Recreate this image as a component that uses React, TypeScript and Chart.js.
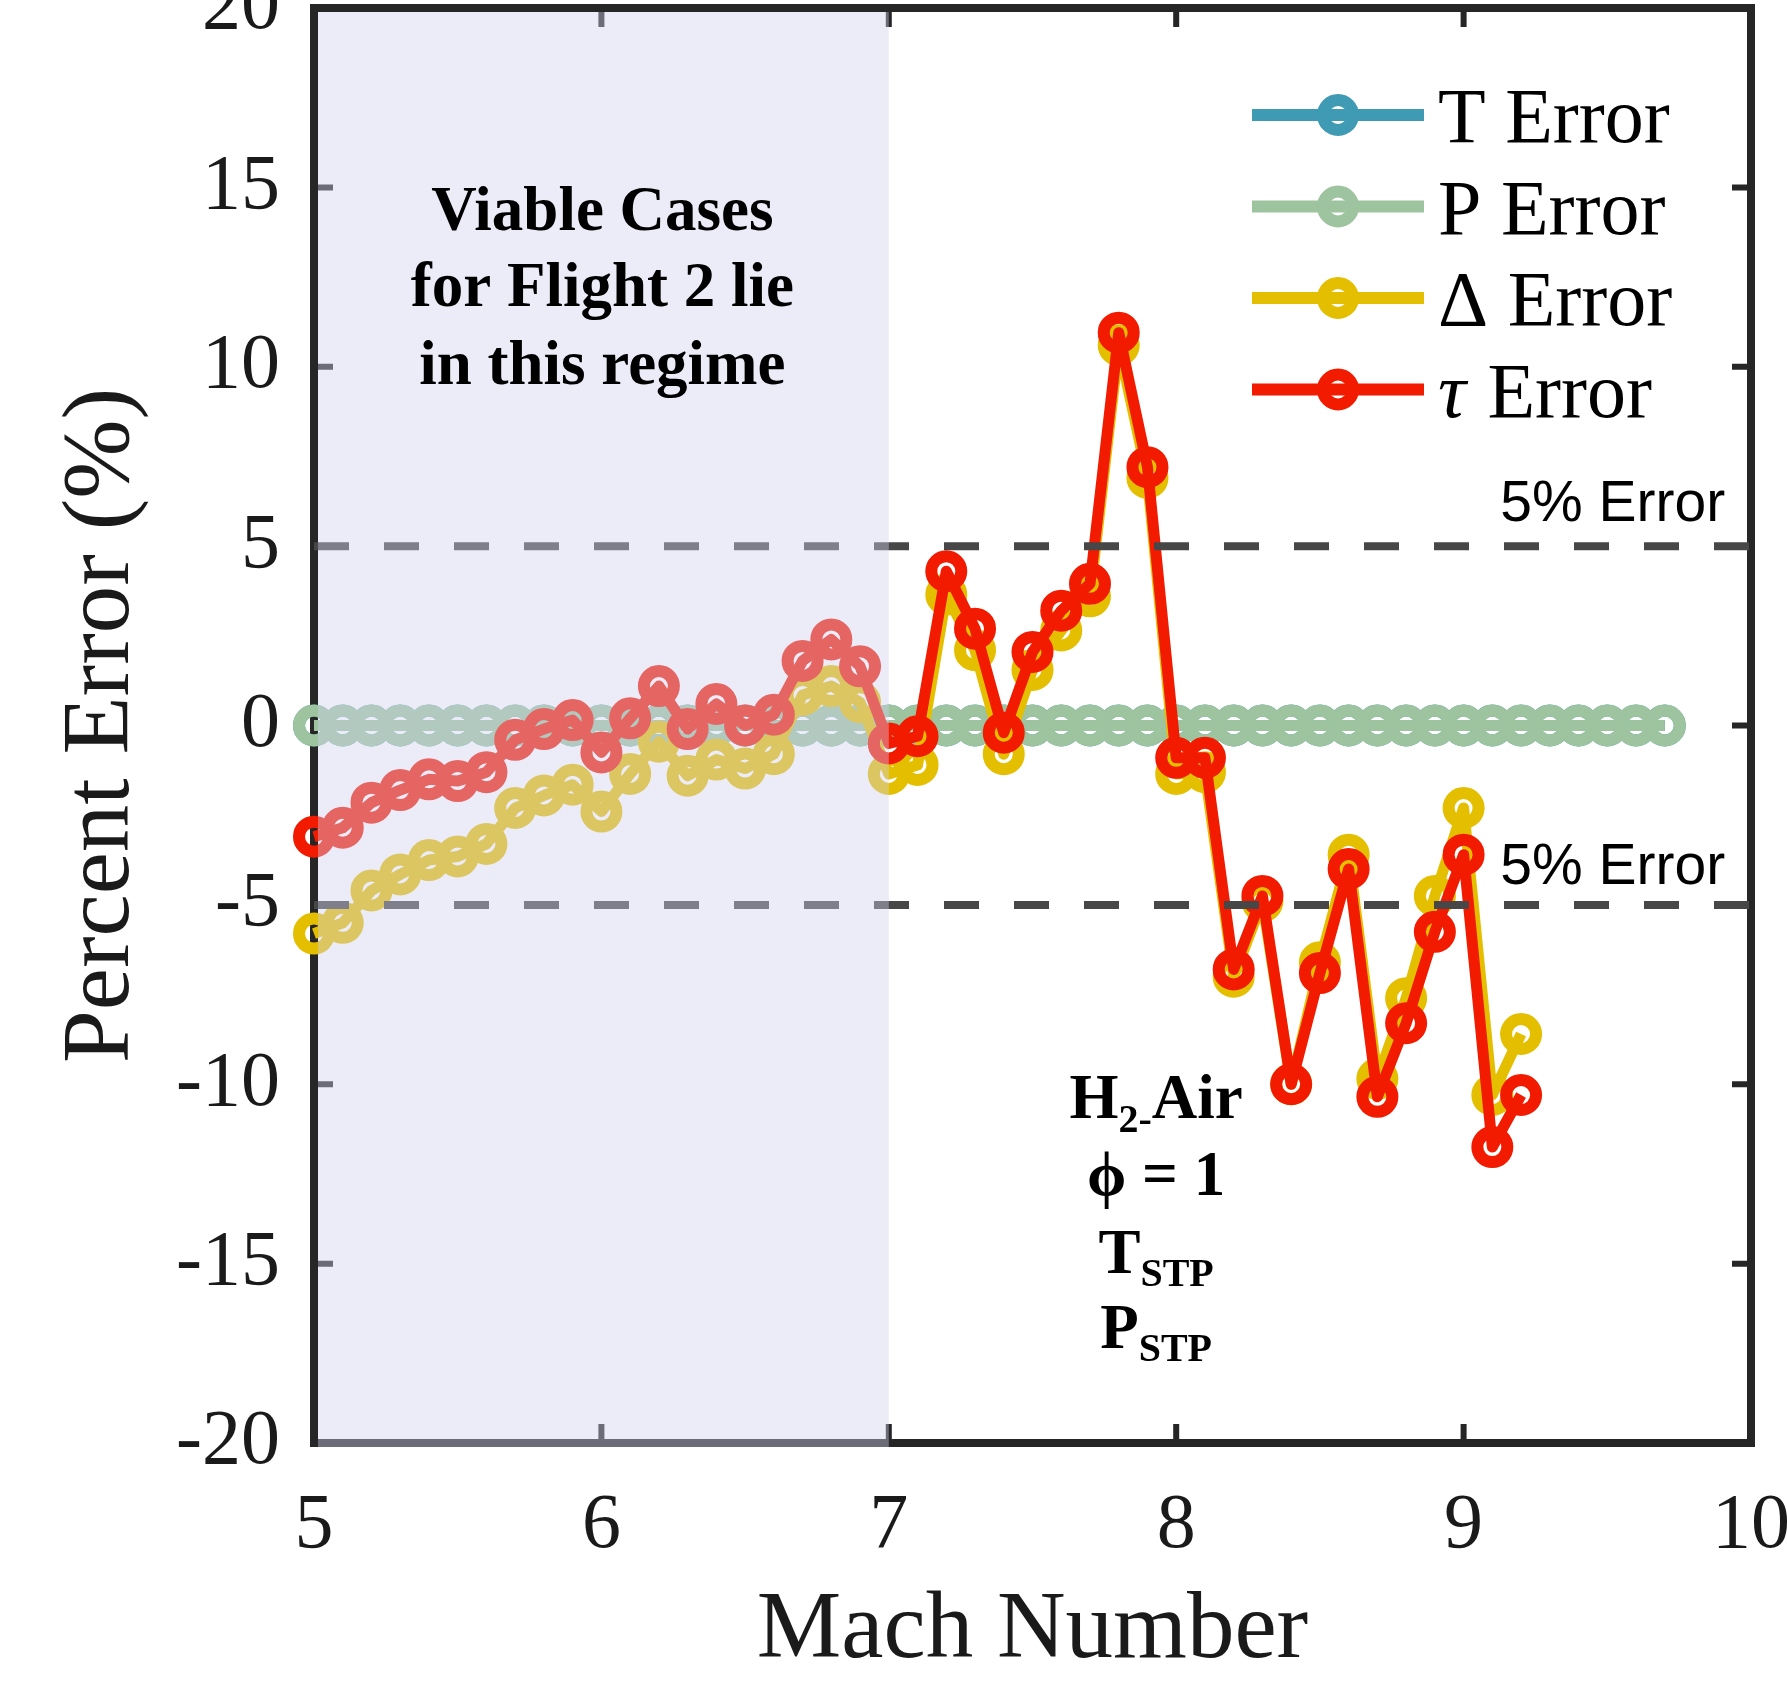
import React, { useEffect, useRef } from "react";
import { Chart, registerables } from "chart.js";

Chart.register(...registerables);

const SERIF = '"Liberation Serif", "Times New Roman", serif';
const SANS = '"Liberation Sans", Arial, sans-serif';

// Mach numbers
const machAll = [5.0, 5.1, 5.2, 5.3, 5.4, 5.5, 5.6, 5.7, 5.8, 5.9, 6.0, 6.1, 6.2, 6.3, 6.4, 6.5, 6.6, 6.7, 6.8, 6.9, 7.0, 7.1, 7.2, 7.3, 7.4, 7.5, 7.6, 7.7, 7.8, 7.9, 8.0, 8.1, 8.2, 8.3, 8.4, 8.5, 8.6, 8.7, 8.8, 8.9, 9.0, 9.1, 9.2, 9.3, 9.4, 9.5, 9.6, 9.7];
const machSub = [5.0, 5.1, 5.2, 5.3, 5.4, 5.5, 5.6, 5.7, 5.8, 5.9, 6.0, 6.1, 6.2, 6.3, 6.4, 6.5, 6.6, 6.7, 6.8, 6.9, 7.0, 7.1, 7.2, 7.3, 7.4, 7.5, 7.6, 7.7, 7.8, 7.9, 8.0, 8.1, 8.2, 8.3, 8.4, 8.5, 8.6, 8.7, 8.8, 8.9, 9.0, 9.1, 9.2];

// Percent errors
const tError = [0, 0, 0, 0, 0, 0, 0, 0, 0, 0, 0, 0, 0, 0, 0, 0, 0, 0, 0, 0, 0, 0, 0, 0, 0, 0, 0, 0, 0, 0, 0, 0, 0, 0, 0, 0, 0, 0, 0, 0, 0, 0, 0, 0, 0, 0, 0, 0];
const pError = [0, 0, 0, 0, 0, 0, 0, 0, 0, 0, 0, 0, 0, 0, 0, 0, 0, 0, 0, 0, 0, 0, 0, 0, 0, 0, 0, 0, 0, 0, 0, 0, 0, 0, 0, 0, 0, 0, 0, 0, 0, 0, 0, 0, 0, 0, 0, 0];
const deltaError = [-5.8, -5.5, -4.6, -4.15, -3.75, -3.65, -3.3, -2.3, -1.95, -1.65, -2.4, -1.35, -0.45, -1.4, -0.95, -1.2, -0.8, 0.85, 1.1, 0.65, -1.35, -1.1, 3.65, 2.1, -0.8, 1.55, 2.65, 3.6, 10.6, 6.9, -1.35, -1.3, -7.0, -4.9, -10.0, -6.6, -3.6, -9.85, -7.6, -4.75, -2.3, -10.3, -8.6];
const tauError = [-3.1, -2.85, -2.15, -1.8, -1.5, -1.55, -1.3, -0.4, -0.1, 0.15, -0.75, 0.2, 1.1, -0.1, 0.6, 0.0, 0.3, 1.8, 2.4, 1.65, -0.5, -0.3, 4.3, 2.7, -0.2, 2.05, 3.2, 3.95, 10.95, 7.2, -0.9, -0.9, -6.8, -4.75, -10.0, -6.9, -4.0, -10.35, -8.3, -5.75, -3.6, -11.75, -10.3];

// Reference lines / regions / axis ranges
const errorBand = [5, -5];
const xRange = [5, 10];
const yRange = [-20, 20];
const viableRange = [5, 7];

const seriesLabels = ["T Error", "P Error", "\u0394 Error", "\u03C4 Error"];
const seriesColors = ["#3f9ab3", "#9dc49e", "#e4bf00", "#f21b00"];

const toXY = (xs: number[], ys: number[]) => xs.map((x, i) => ({ x, y: ys[i] }));

function drawParts(ctx: CanvasRenderingContext2D, parts: { text: string; font: string; dy: number }[], cx: number, baseline: number) {
  let total = 0;
  const widths = parts.map((p) => {
    ctx.font = p.font;
    const w = ctx.measureText(p.text).width;
    total += w;
    return w;
  });
  let x = cx - total / 2;
  ctx.textAlign = "left";
  ctx.textBaseline = "alphabetic";
  parts.forEach((p, i) => {
    ctx.font = p.font;
    ctx.fillText(p.text, x, baseline + p.dy);
    x += widths[i];
  });
}

const framePlugin = {
  id: "frame",
  beforeDatasetsDraw(chart: any) {
    const { ctx, chartArea: ca, scales } = chart;
    ctx.save();
    ctx.strokeStyle = "#262626";
    ctx.lineWidth = 6;
    ctx.beginPath();
    const tl = 19;
    for (const t of scales.y.ticks) {
      const py = scales.y.getPixelForValue(t.value);
      ctx.moveTo(ca.left, py);
      ctx.lineTo(ca.left + tl, py);
      ctx.moveTo(ca.right, py);
      ctx.lineTo(ca.right - tl, py);
    }
    for (const t of scales.x.ticks) {
      const px = scales.x.getPixelForValue(t.value);
      ctx.moveTo(px, ca.bottom);
      ctx.lineTo(px, ca.bottom - tl);
      ctx.moveTo(px, ca.top);
      ctx.lineTo(px, ca.top + tl);
    }
    ctx.stroke();
    ctx.lineWidth = 8;
    ctx.strokeRect(ca.left, ca.top, ca.right - ca.left, ca.bottom - ca.top);
    ctx.restore();
  },
  afterDatasetsDraw(chart: any) {
    const { ctx, chartArea: ca, scales } = chart;
    const x0 = scales.x.getPixelForValue(viableRange[0]) + 4;
    const x1 = scales.x.getPixelForValue(viableRange[1]);
    ctx.save();
    ctx.fillStyle = "rgba(209,209,238,0.41)";
    ctx.fillRect(x0, ca.top + 4, x1 - x0, ca.bottom - ca.top);
    ctx.restore();
  },
  afterDraw(chart: any) {
    const { ctx, chartArea: ca, scales } = chart;
    const xs = scales.x;
    const ys = scales.y;
    ctx.save();
    ctx.fillStyle = "#000";

    // Viable region note
    const vx = xs.getPixelForValue(6) + 1;
    ctx.font = `bold 63px ${SERIF}`;
    ctx.textAlign = "center";
    ctx.textBaseline = "alphabetic";
    ctx.fillText("Viable Cases", vx, ys.getPixelForValue(13.82));
    ctx.fillText("for Flight 2 lie", vx, ys.getPixelForValue(11.68));
    ctx.fillText("in this regime", vx, ys.getPixelForValue(9.53));

    // Conditions note
    const hx = xs.getPixelForValue(7.93);
    const big = `bold 63px ${SERIF}`;
    const sub = `bold 40px ${SERIF}`;
    drawParts(ctx, [
      { text: "H", font: big, dy: 0 },
      { text: "2-", font: sub, dy: 14 },
      { text: "Air", font: big, dy: 0 },
    ], hx, ys.getPixelForValue(-10.95));
    drawParts(ctx, [{ text: "\u03D5 = 1", font: big, dy: 0 }], hx, ys.getPixelForValue(-13.1));
    drawParts(ctx, [
      { text: "T", font: big, dy: 0 },
      { text: "STP", font: sub, dy: 13 },
    ], hx, ys.getPixelForValue(-15.26));
    drawParts(ctx, [
      { text: "P", font: big, dy: 0 },
      { text: "STP", font: sub, dy: 13 },
    ], hx, ys.getPixelForValue(-17.35));

    // 5% error labels
    ctx.font = `57px ${SANS}`;
    ctx.textAlign = "right";
    ctx.textBaseline = "alphabetic";
    const ex = xs.getPixelForValue(9.91);
    ctx.fillText("5% Error", ex, ys.getPixelForValue(5.69));
    ctx.fillText("5% Error", ex, ys.getPixelForValue(-4.41));

    // Legend
    const lineStart = ca.right - 499;
    const lineEnd = ca.right - 327;
    const markX = ca.right - 413;
    const textX = ca.right - 313;
    seriesLabels.forEach((label, i) => {
      const ry = ca.top + 107 + i * 91.5;
      const col = seriesColors[i];
      ctx.strokeStyle = col;
      ctx.lineWidth = 12;
      ctx.beginPath();
      ctx.moveTo(lineStart, ry);
      ctx.lineTo(lineEnd, ry);
      ctx.stroke();
      ctx.beginPath();
      ctx.arc(markX, ry, 15, 0, Math.PI * 2);
      ctx.stroke();
      ctx.fillStyle = "#000";
      ctx.textAlign = "left";
      ctx.textBaseline = "alphabetic";
      if (label.startsWith("\u03C4")) {
        ctx.font = `italic 78px ${SERIF}`;
        ctx.fillText("\u03C4", textX, ry + 27);
        const w = ctx.measureText("\u03C4").width;
        ctx.font = `78px ${SERIF}`;
        ctx.fillText(" Error", textX + w + 2, ry + 27);
      } else {
        ctx.font = `78px ${SERIF}`;
        ctx.fillText(label, textX, ry + 27);
      }
    });
    ctx.restore();
  },
};

const CANVAS_W = 1851;
const CANVAS_H = 1748;

export default function App() {
  const ref = useRef<HTMLCanvasElement | null>(null);

  useEffect(() => {
    if (!ref.current) return;
    const seriesData = [toXY(machAll, tError), toXY(machAll, pError), toXY(machSub, deltaError), toXY(machSub, tauError)];
    const seriesOrder = [4, 3, 2, 1];
    const datasets: any[] = seriesLabels.map((label, i) => ({
      label,
      data: seriesData[i],
      borderColor: seriesColors[i],
      backgroundColor: seriesColors[i],
      borderWidth: 11,
      borderJoinStyle: "round",
      pointRadius: 15,
      pointHoverRadius: 15,
      pointBorderWidth: 12,
      pointBorderColor: seriesColors[i],
      pointBackgroundColor: "rgba(0,0,0,0)",
      tension: 0,
      clip: false,
      order: seriesOrder[i],
    }));
    errorBand.forEach((v) => {
      datasets.push({
        label: "band",
        data: [{ x: xRange[0], y: v }, { x: xRange[1], y: v }],
        borderColor: "#474747",
        borderWidth: 8,
        borderDash: [35, 35],
        pointRadius: 0,
        order: 0,
        clip: false,
      });
    });

    const chart = new Chart(ref.current, {
      type: "line",
      data: { datasets },
      plugins: [framePlugin],
      options: {
        responsive: false,
        animation: false,
        devicePixelRatio: 1,
        events: [],
        layout: { padding: { top: 60, right: 100, left: 0, bottom: 0 } },
        plugins: { legend: { display: false }, tooltip: { enabled: false } },
        scales: {
          x: {
            type: "linear",
            min: xRange[0],
            max: xRange[1],
            afterFit: (s: any) => { s.height = 240; },
            ticks: { stepSize: 1, color: "#1a1a1a", padding: 45, font: { family: SERIF, size: 78, lineHeight: 1 } },
            grid: { display: false, drawTicks: false },
            border: { display: false },
            title: { display: true, text: "Mach Number", color: "#1a1a1a", font: { family: SERIF, size: 95, lineHeight: 1 }, padding: { top: 0, bottom: 3 } },
          },
          y: {
            type: "linear",
            min: yRange[0],
            max: yRange[1],
            afterFit: (s: any) => { s.width = 314; },
            ticks: { stepSize: 5, color: "#1a1a1a", padding: 34, font: { family: SERIF, size: 78, lineHeight: 1 } },
            grid: { display: false, drawTicks: false },
            border: { display: false },
            title: { display: true, text: "Percent Error (%)", color: "#1a1a1a", font: { family: SERIF, size: 95, lineHeight: 1 }, padding: { top: 56, bottom: 0 } },
          },
        },
      } as any,
    });
    return () => chart.destroy();
  }, []);

  return (
    <div style={{ position: "fixed", left: 0, top: 0, width: 1787, height: 1681, overflow: "hidden", background: "#fff" }}>
      <div style={{ position: "absolute", left: 0, top: -65, width: CANVAS_W, height: CANVAS_H }}>
        <canvas ref={ref} width={CANVAS_W} height={CANVAS_H} style={{ width: CANVAS_W, height: CANVAS_H, display: "block" }} />
      </div>
    </div>
  );
}
